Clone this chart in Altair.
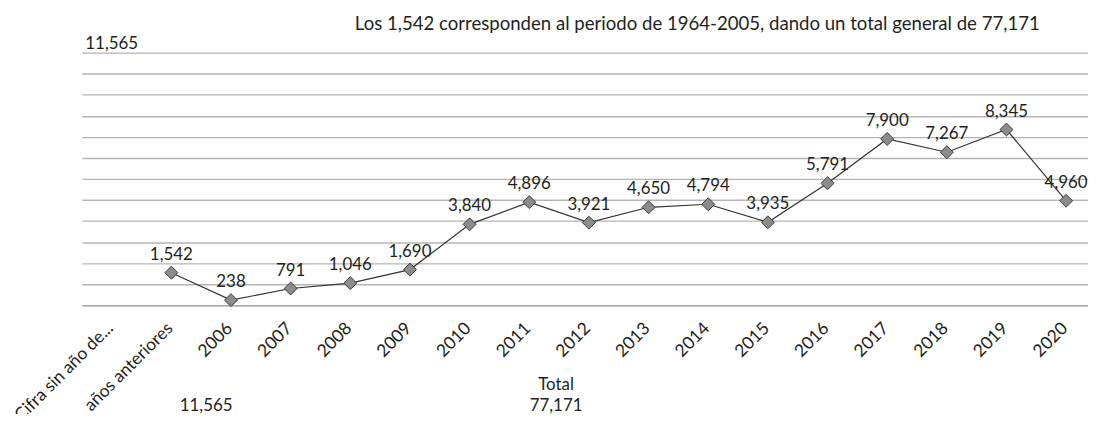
import altair as alt
import pandas as pd

# ---- data ----
categories = ["Cifra sin año de...", "años anteriores", "2006", "2007", "2008", "2009",
              "2010", "2011", "2012", "2013", "2014", "2015", "2016", "2017", "2018",
              "2019", "2020"]
values = [11565, 1542, 238, 791, 1046, 1690, 3840, 4896, 3921, 4650, 4794, 3935,
          5791, 7900, 7267, 8345, 4960]
shown_on_line = [False] + [True] * 16

top_note = "Los 1,542 corresponden al periodo de 1964-2005, dando un total general de 77,171"
table_first = "11,565"
total_label = "Total"
total_value = "77,171"

FONT = "Lato"
TXT = "#231f20"

df = pd.DataFrame({"cat": categories, "value": values, "shown": shown_on_line})

x_enc = alt.X(
    "cat:N", sort=categories,
    scale=alt.Scale(range=[0, 1020], paddingInner=0, paddingOuter=0),
    axis=alt.Axis(title=None, labelAngle=-45, labelFont=FONT, labelFontSize=17.5,
                  labelColor=TXT, ticks=False, domain=True, domainColor="#a8a8a8",
                  domainWidth=1.5, labelPadding=14, labelOffset=-8, grid=False,
                  labelOverlap=False),
)
y_enc = alt.Y(
    "value:Q",
    scale=alt.Scale(domain=[0, 12000], nice=False, zero=True),
    axis=alt.Axis(title=None, labels=False, ticks=False, domain=False,
                  values=list(range(0, 12001, 1000)), gridColor="#b4b4b4",
                  gridWidth=1.4, labelOverlap=False),
)

base = alt.Chart(df)
line_df = base.transform_filter("datum.shown")

line = line_df.mark_line(color="#333333", strokeWidth=1.2).encode(x=x_enc, y=y_enc)
points = line_df.mark_point(shape="diamond", filled=True, size=170, fill="#8c8c8c",
                            stroke="#3a3a3a", strokeWidth=1, opacity=1).encode(
    x=x_enc, y=y_enc)
labels = base.mark_text(dy=-13, baseline="alphabetic", font=FONT, fontSize=17,
                        color=TXT).encode(
    x=x_enc, y=y_enc, text=alt.Text("value:Q", format=","))


def note(text, px, py, size=17):
    return alt.Chart(pd.DataFrame({"t": [text]})).mark_text(
        font=FONT, fontSize=size, color=TXT, baseline="alphabetic", align="center"
    ).encode(x=alt.value(px), y=alt.value(py), text="t:N")


notes = (note(top_note, 619, -22.5, 18.7)
         + note(table_first, 125, 360)
         + note(total_label, 477, 339)
         + note(total_value, 477, 360))

chart = alt.layer(line, points, labels, notes).properties(
    width=1012, height=254,
    autosize=alt.AutoSizeParams(type="none"),
    padding={"left": 74.3, "top": 43.7, "right": 0, "bottom": 108},
).configure_view(stroke=None)

chart.save("out.html", embed_options={"renderer": "svg", "actions": False})
